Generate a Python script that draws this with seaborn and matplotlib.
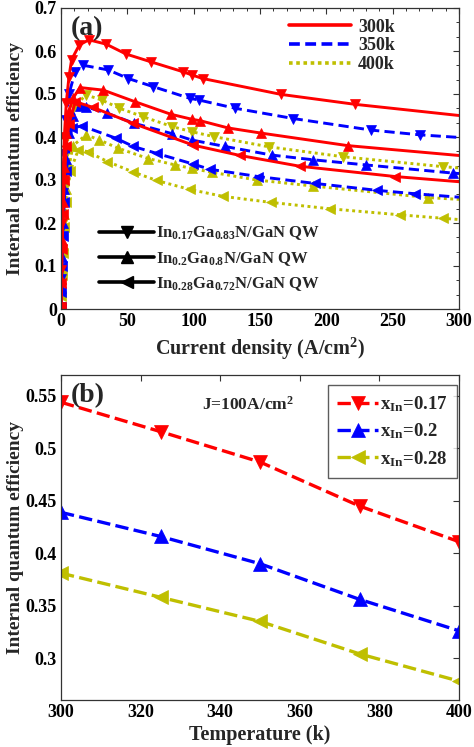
import matplotlib
matplotlib.use("Agg")
import matplotlib.pyplot as plt
from matplotlib.lines import Line2D
from matplotlib.ticker import MultipleLocator, AutoMinorLocator, FuncFormatter
import seaborn as sns

# ---------------- Panel (a) data: IQE vs current density ----------------
# 300 K
J_300_017 = [0, 0.3, 0.8, 1.5, 2.5, 4, 6, 8, 13.8, 21, 34, 49, 67.6, 91.7, 99, 106.8, 166, 221.6, 300]
E_300_017 = [0.005, 0.09, 0.2, 0.3, 0.4, 0.48, 0.54, 0.58, 0.614, 0.626, 0.616, 0.593, 0.575, 0.552, 0.544, 0.536, 0.499, 0.476, 0.45]
J_300_020 = [0, 0.3, 0.8, 1.5, 2.5, 4, 6, 9, 14.3, 31.9, 55.8, 82.7, 99, 104.8, 126, 151, 216, 300]
E_300_020 = [0.004, 0.07, 0.16, 0.25, 0.33, 0.41, 0.46, 0.49, 0.515, 0.509, 0.482, 0.453, 0.441, 0.438, 0.421, 0.409, 0.38, 0.357]
J_300_028 = [0, 0.3, 0.8, 1.5, 2.5, 4, 6, 10.8, 24, 54, 99.7, 135, 180, 252, 300]
E_300_028 = [0.003, 0.06, 0.14, 0.22, 0.3, 0.38, 0.43, 0.482, 0.469, 0.432, 0.381, 0.357, 0.332, 0.308, 0.296]
# 350 K
J_350_017 = [0, 0.3, 0.8, 1.5, 2.5, 4, 6, 10.5, 16.3, 35.6, 50.7, 69.6, 97, 104, 131, 175, 234, 270.6, 300]
E_350_017 = [0.004, 0.07, 0.17, 0.27, 0.36, 0.44, 0.5, 0.55, 0.567, 0.556, 0.536, 0.517, 0.49, 0.486, 0.467, 0.443, 0.416, 0.405, 0.399]
J_350_020 = [0, 0.3, 0.8, 1.5, 2.5, 4, 6, 9, 14, 19, 35, 55, 83.4, 98.5, 123.6, 158.8, 190, 230, 295.7, 300]
E_350_020 = [0.003, 0.05, 0.12, 0.2, 0.28, 0.35, 0.41, 0.45, 0.472, 0.47, 0.455, 0.432, 0.408, 0.393, 0.378, 0.358, 0.347, 0.335, 0.316, 0.315]
J_350_028 = [0, 0.3, 0.8, 1.5, 2.5, 4, 8, 15.6, 41.5, 54.5, 72, 99.7, 112, 148.7, 191.5, 238, 267, 300]
E_350_028 = [0.003, 0.04, 0.1, 0.17, 0.25, 0.32, 0.42, 0.426, 0.397, 0.378, 0.362, 0.337, 0.325, 0.308, 0.292, 0.276, 0.268, 0.26]
# 400 K
J_400_017 = [0, 0.3, 0.8, 1.5, 2.5, 4, 6, 10, 18.8, 30.7, 44, 62, 84, 99, 115, 157, 212.8, 288, 300]
E_400_017 = [0.003, 0.05, 0.12, 0.2, 0.28, 0.36, 0.42, 0.47, 0.498, 0.486, 0.467, 0.447, 0.424, 0.412, 0.401, 0.377, 0.354, 0.331, 0.328]
J_400_020 = [0, 0.3, 0.8, 1.5, 2.5, 4, 6, 9, 19, 29, 43, 65.6, 86, 98.5, 113.6, 147.5, 190, 277, 300]
E_400_020 = [0.002, 0.04, 0.09, 0.15, 0.22, 0.28, 0.33, 0.38, 0.405, 0.393, 0.374, 0.35, 0.335, 0.327, 0.318, 0.3, 0.286, 0.259, 0.255]
J_400_028 = [0, 0.3, 0.8, 1.5, 2.5, 4, 7, 13, 20, 35, 54, 72, 97, 122, 158, 203, 255.5, 288, 300]
E_400_028 = [0.002, 0.03, 0.08, 0.13, 0.19, 0.25, 0.32, 0.37, 0.366, 0.343, 0.319, 0.299, 0.278, 0.262, 0.248, 0.233, 0.219, 0.211, 0.208]

temp_labels = ["300k", "350k", "400k"]
comp_labels = [r"In$_{0.17}$Ga$_{0.83}$N/GaN QW",
               r"In$_{0.2}$Ga$_{0.8}$N/GaN QW",
               r"In$_{0.28}$Ga$_{0.72}$N/GaN QW"]

# ---------------- Panel (b) data: IQE vs temperature at J=100 A/cm2 -----
T_b = [300, 325, 350, 375, 400]
E_b_017 = [0.544, 0.516, 0.487, 0.445, 0.411]
E_b_020 = [0.439, 0.416, 0.390, 0.356, 0.326]
E_b_028 = [0.381, 0.358, 0.335, 0.304, 0.278]
b_labels = [r"x$_{In}$=0.17", r"x$_{In}$=0.2", r"x$_{In}$=0.28"]

# ---------------- style ----------------
sns.set_style("white")
plt.rcParams["font.family"] = ["Liberation Serif", "DejaVu Serif"]
plt.rcParams["font.weight"] = "bold"
plt.rcParams["mathtext.fontset"] = "custom"
plt.rcParams["mathtext.rm"] = "Liberation Serif:bold"
plt.rcParams["mathtext.it"] = "Liberation Serif:bold"
plt.rcParams["mathtext.bf"] = "Liberation Serif:bold"

RED = "#ff0000"
BLUE = "#0000ff"
YEL = "#bfbf00"
colors = {"300": RED, "350": BLUE, "400": YEL}
lstyles = {"300": "-", "350": (0, (3.5, 1.8)), "400": (0, (1, 1.2))}
markers = {"017": "v", "020": "^", "028": "<"}

fig = plt.figure(figsize=(4.74, 7.47), dpi=100)
W, H = 474.0, 747.0
ax1 = fig.add_axes([61 / W, 1 - 309 / H, 398 / W, 301 / H])
ax2 = fig.add_axes([61 / W, 1 - 700 / H, 398 / W, 325 / H])

curves = [
    ("400", "028", J_400_028, E_400_028), ("400", "020", J_400_020, E_400_020), ("400", "017", J_400_017, E_400_017),
    ("350", "028", J_350_028, E_350_028), ("350", "020", J_350_020, E_350_020), ("350", "017", J_350_017, E_350_017),
    ("300", "028", J_300_028, E_300_028), ("300", "020", J_300_020, E_300_020), ("300", "017", J_300_017, E_300_017),
]
for t, c, J, E in curves:
    sns.lineplot(x=J, y=E, ax=ax1, color=colors[t], linestyle=lstyles[t],
                 linewidth=2.1, marker=markers[c], markersize=6.5,
                 markeredgecolor=colors[t], markerfacecolor=colors[t],
                 markeredgewidth=0.5, markevery=list(range(len(J) - 1)),
                 estimator=None, sort=False, legend=False)

fmt = FuncFormatter(lambda v, p: f"{v:g}")
ax1.set_xlim(0, 300)
ax1.set_ylim(0, 0.7)
ax1.xaxis.set_major_locator(MultipleLocator(50))
ax1.xaxis.set_minor_locator(MultipleLocator(10))
ax1.yaxis.set_major_locator(MultipleLocator(0.1))
ax1.yaxis.set_minor_locator(AutoMinorLocator(3))
ax1.xaxis.set_major_formatter(fmt)
ax1.yaxis.set_major_formatter(fmt)
ax1.set_xlabel(r"Current density (A/cm$^2$)", fontsize=14.5, fontweight="bold", labelpad=4)
ax1.set_ylabel("Internal quantum efficiency", fontsize=14, fontweight="bold")
ax1.yaxis.set_label_coords(-0.092, 0.5)
ax1.text(0.025, 0.93, "(a)", transform=ax1.transAxes, fontsize=20, fontweight="bold",
         ha="left", va="center")

h_temp = [Line2D([], [], color=RED, linestyle="-", linewidth=2.6),
          Line2D([], [], color=BLUE, linestyle=(0, (3.0, 1.5)), linewidth=2.6),
          Line2D([], [], color=YEL, linestyle=(0, (1, 1.0)), linewidth=2.6)]
leg1 = ax1.legend(h_temp, temp_labels, loc="upper left", bbox_to_anchor=(0.565, 0.977),
                  borderaxespad=0, frameon=False, handlelength=3.4, handletextpad=0.4,
                  labelspacing=0.1, borderpad=0.2, prop={"weight": "bold", "size": 13})
ax1.add_artist(leg1)
h_comp = [Line2D([], [], color="black", linewidth=2.6, marker=m, markersize=8)
          for m in ["v", "^", "<"]]
ax1.legend(h_comp, comp_labels, loc="upper left", bbox_to_anchor=(0.088, 0.292),
           borderaxespad=0, frameon=False, handlelength=3.3, handletextpad=0.1,
           labelspacing=0.45, borderpad=0.2, prop={"weight": "bold", "size": 12})

# ---------------- panel (b) ----------------
for E, col, m, lab in [(E_b_017, RED, "v", b_labels[0]), (E_b_020, BLUE, "^", b_labels[1]),
                       (E_b_028, YEL, "<", b_labels[2])]:
    sns.lineplot(x=T_b, y=E, ax=ax2, color=col, linestyle=(0, (4, 1.6)), linewidth=2.4,
                 marker=m, markersize=10, markeredgecolor=col, markerfacecolor=col,
                 markeredgewidth=0.5, estimator=None, sort=False, label=lab)

ax2.set_xlim(300, 400)
ax2.set_ylim(0.26, 0.57)
ax2.xaxis.set_major_locator(MultipleLocator(20))
ax2.yaxis.set_major_locator(MultipleLocator(0.05))
ax2.xaxis.set_major_formatter(fmt)
ax2.yaxis.set_major_formatter(fmt)
ax2.set_xlabel("Temperature (k)", fontsize=14.5, fontweight="bold", labelpad=3)
ax2.set_ylabel("Internal quantum efficiency", fontsize=14, fontweight="bold")
ax2.yaxis.set_label_coords(-0.092, 0.5)
ax2.text(0.025, 0.938, "(b)", transform=ax2.transAxes, fontsize=20, fontweight="bold",
         ha="left", va="center")
ax2.text(0.354, 0.908, r"J=100A/cm$^2$", transform=ax2.transAxes, fontsize=12.5,
         fontweight="bold", ha="left", va="center")
leg2 = ax2.legend(loc="upper right", bbox_to_anchor=(0.995, 0.969), borderaxespad=0,
                  frameon=True, fancybox=False, handlelength=2.2, handletextpad=0.1,
                  labelspacing=0.4, borderpad=0.5, prop={"weight": "bold", "size": 13.5})
leg2.get_frame().set_edgecolor("#333333")
leg2.get_frame().set_linewidth(1.0)

for ax in (ax1, ax2):
    for sp in ax.spines.values():
        sp.set_color("#333333")
        sp.set_linewidth(0.9)
    ax.tick_params(which="both", direction="in", top=True, right=True,
                   labelsize=13, colors="#333333", labelcolor="black", pad=3)
    ax.tick_params(which="major", length=4.5, width=0.8)
    ax.tick_params(which="minor", length=2.5, width=0.7)
    for lbl in ax.get_xticklabels() + ax.get_yticklabels():
        lbl.set_fontweight("bold")

fig.savefig("out.png", dpi=100)
